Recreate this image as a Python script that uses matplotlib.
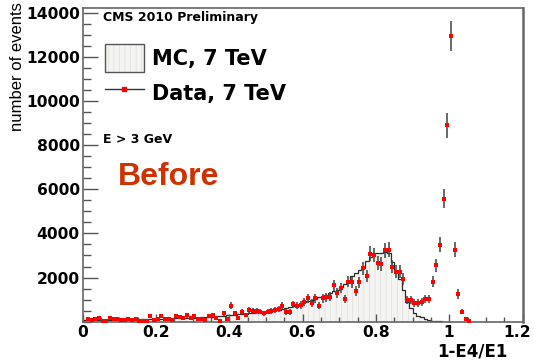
import numpy as np
import matplotlib.pyplot as plt
import matplotlib.transforms as mtransforms
from matplotlib.lines import Line2D
from matplotlib.patches import Patch
from matplotlib.ticker import MultipleLocator, FormatStrFormatter

plt.rcParams['font.family'] = ['Liberation Sans', 'DejaVu Sans']
plt.rcParams['hatch.color'] = '#d4d4d4'
plt.rcParams['hatch.linewidth'] = 0.35

# 1-E4/E1 spectrum, bins of 0.01 starting at 0
bin_width = 0.01

data_counts = [
    0, 110, 80, 110, 180, 40, 20, 155, 110, 110,
    60, 80, 110, 90, 110, 45, 30, 20, 260, 80,
    110, 260, 110, 110, 60, 260, 200, 150, 290, 180,
    270, 110, 110, 80, 260, 300, 160, 50, 380, 110,
    730, 380, 160, 430, 300, 530, 490, 490, 460, 380,
    460, 500, 530, 580, 730, 430, 430, 790, 730, 760,
    910, 1060, 840, 1060, 730, 1060, 1110, 1140, 1640, 1290,
    1520, 1020, 1820, 1790, 1400, 1790, 2430, 2090, 3080, 3030,
    2650, 2610, 3230, 3260, 2500, 2270, 2270, 1930, 990, 990,
    860, 860, 910, 1020, 1020, 1820, 2550, 3490, 5580, 8910,
    12950, 3270, 1250, 460, 110, 45,
]

mc_counts = [
    70, 75, 80, 85, 85, 85, 90, 90, 95, 95,
    95, 100, 100, 100, 105, 105, 110, 110, 115, 120,
    120, 125, 130, 135, 140, 145, 150, 160, 165, 175,
    180, 190, 200, 210, 220, 230, 245, 260, 275, 290,
    300, 320, 340, 350, 370, 390, 410, 420, 440, 455,
    470, 500, 520, 550, 580, 620, 660, 700, 760, 820,
    880, 920, 970, 1030, 1100, 1150, 1220, 1290, 1370, 1450,
    1580, 1700, 1850, 2050, 2200, 2350, 2450, 2730, 2950, 3110,
    3110, 3110, 3150, 3110, 2700, 2300, 1950, 1450, 900, 600,
    400, 280, 200, 110, 70, 40, 20, 10, 5, 0,
    0, 0, 0, 0, 0, 0,
]

# data events carry a weight, so errors are weight * sqrt(N)
event_weight = 6.0

y_ticks = [2000, 4000, 6000, 8000, 10000, 12000, 14000]
x_ticks = [0, 0.2, 0.4, 0.6, 0.8, 1.0, 1.2]

data = np.array(data_counts, dtype=float)
mc = np.array(mc_counts, dtype=float)
edges = np.arange(len(data) + 1) * bin_width
centers = edges[:-1] + bin_width / 2
errors = event_weight * np.sqrt(data)
filled = data > 0

fig = plt.figure(figsize=(5.34, 3.6), dpi=100)
ax = fig.add_axes([0.1545, 0.1064, 0.824, 0.8706])

# MC: faint striped grey fill plus dark step outline
ax.stairs(mc, edges, fill=True, facecolor='#f4f4f2', hatch='|||', linewidth=0)
ax.stairs(mc, edges, color='#2a2a2a', linewidth=0.9)

ax.errorbar(centers[filled], data[filled], yerr=errors[filled], fmt='s',
            color='red', ms=3.2, mew=0, ecolor='#404040', elinewidth=1.1,
            capsize=0, zorder=5)

ax.set_xlim(0, 1.2)
ax.set_ylim(0, 14200)

tick_font = dict(family='DejaVu Sans', weight='bold', size=11.2)
ax.set_xticks(x_ticks)
ax.set_yticks(y_ticks)
ax.xaxis.set_major_formatter(FormatStrFormatter('%g'))
ax.xaxis.set_minor_locator(MultipleLocator(0.05))
ax.yaxis.set_minor_locator(MultipleLocator(500))
for lab in ax.get_xticklabels() + ax.get_yticklabels():
    lab.set_fontproperties(tick_font)
ax.tick_params(which='both', direction='in', top=False, right=False, colors='#555555')
ax.tick_params(axis='x', which='major', length=5.8, width=1, pad=2.5, labelcolor='black')
ax.tick_params(axis='x', which='minor', length=3.6, width=1)
ax.tick_params(axis='y', which='major', length=11, width=1, pad=2, labelcolor='black')
ax.tick_params(axis='y', which='minor', length=5.8, width=1)

# nudge the last x label so it stays inside the figure
last = ax.xaxis.get_major_ticks()[-1].label1
last.set_transform(last.get_transform() +
                   mtransforms.ScaledTranslation(-4 / 72, 0, fig.dpi_scale_trans))

for side, sp in ax.spines.items():
    sp.set_color('#666666')
    sp.set_linewidth(1.2)
ax.spines['right'].set_linewidth(1.8)

ax.set_ylabel('number of events', fontsize=12, va='center', ha='center')
ax.yaxis.set_label_coords(-0.147, 0.814)
ax.set_xlabel('1-E4/E1', family='DejaVu Sans', weight='bold', fontsize=12,
              ha='right', va='center')
ax.xaxis.set_label_coords(0.967, -0.095)

ax.text(0.047, 0.972, 'CMS 2010 Preliminary', transform=ax.transAxes,
        family='DejaVu Sans', weight='bold', fontsize=9, va='center', ha='left')
ax.text(0.047, 0.58, 'E > 3 GeV', transform=ax.transAxes,
        family='DejaVu Sans', weight='bold', fontsize=9, va='center', ha='left')
ax.text(0.081, 0.462, 'Before', transform=ax.transAxes,
        family='Liberation Sans', weight='bold',
        fontsize=23, color='#cc3300', va='center', ha='left')

mc_handle = (Patch(facecolor='#f4f4f2', hatch='|||', linewidth=0),
             Patch(facecolor='none', edgecolor='#555555', linewidth=1.0))
data_handle = Line2D([], [], color='#333333', lw=1, marker='s', ms=3.2,
                     mfc='red', mec='red')
ax.legend([mc_handle, data_handle], ['MC, 7 TeV', 'Data, 7 TeV'],
          loc='upper left', bbox_to_anchor=(0.05, 0.885), frameon=False,
          prop=dict(family='DejaVu Sans', weight='bold', size=15),
          handlelength=1.9, handleheight=1.65, labelspacing=0.35,
          handletextpad=0.4, borderaxespad=0, borderpad=0)

fig.savefig('out.png', dpi=100)
